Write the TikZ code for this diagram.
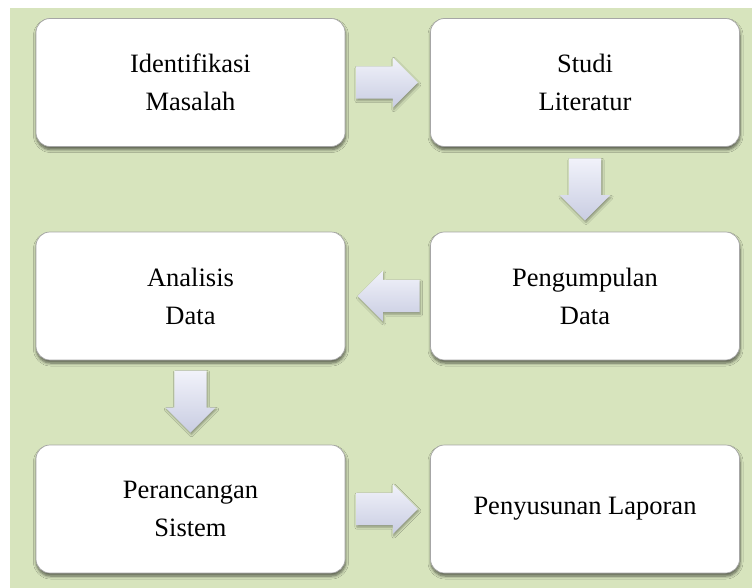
\documentclass[tikz,border=0pt]{standalone}
\usepackage{fontspec}
\setmainfont{Liberation Serif}
\usetikzlibrary{shapes.arrows,shadows.blur,calc}
\definecolor{bggreen}{HTML}{D7E4BD}
\definecolor{arrlight}{HTML}{F1F2FA}
\definecolor{arrdark}{HTML}{C9CDE2}
\tikzset{
  stepbox/.style={draw=gray!70, line width=0.7pt, fill=white, rounded corners=14pt,
    minimum width=309pt, minimum height=128pt, align=center, inner sep=0pt,
    font=\fontsize{26.5}{38}\selectfont,
    blur shadow={shadow xshift=0.5pt, shadow yshift=-3pt, shadow blur steps=6,
      shadow blur radius=3pt, shadow opacity=60}},
  blockarrow/.style={single arrow, draw=none, inner sep=16pt, anchor=tail,
    minimum height=62pt, single arrow head extend=9pt,
    single arrow tip angle=90, top color=arrlight, bottom color=arrdark,
    blur shadow={shadow xshift=1pt, shadow yshift=-2pt, shadow blur steps=5,
      shadow blur radius=2pt, shadow opacity=35}}
}
\begin{document}
\begin{tikzpicture}[x=1pt,y=-1pt]
\useasboundingbox (0,0) rectangle (752,588);
\fill[white] (0,0) rectangle (752,588);
\fill[bggreen] (10,8) rectangle (752,588);
\node[stepbox] (idm) at (190.5,82.5) {Identifikasi\\Masalah};
\node[stepbox] (stl) at (585,82.5) {Studi\\Literatur};
\node[stepbox] (pgd) at (585,296) {Pengumpulan\\Data};
\node[stepbox] (and) at (190.5,296) {Analisis\\Data};
\node[stepbox] (prs) at (190.5,509) {Perancangan\\Sistem};
\node[stepbox] (pyl) at (585,509) {Penyusunan Laporan};
\node[blockarrow] (a1) at ($(idm.east)!0.5!(stl.west)+(-32,0)$) {};
\node[blockarrow, shape border rotate=270] (a2) at ($(stl.south)!0.5!(pgd.north)+(0,-31)$) {};
\node[blockarrow, shape border rotate=180] (a3) at ($(pgd.west)!0.5!(and.east)+(32,0)$) {};
\node[blockarrow, shape border rotate=270] (a4) at ($(and.south)!0.5!(prs.north)+(0,-32)$) {};
\node[blockarrow] (a5) at ($(prs.east)!0.5!(pyl.west)+(-32,0)$) {};
\end{tikzpicture}
\end{document}
